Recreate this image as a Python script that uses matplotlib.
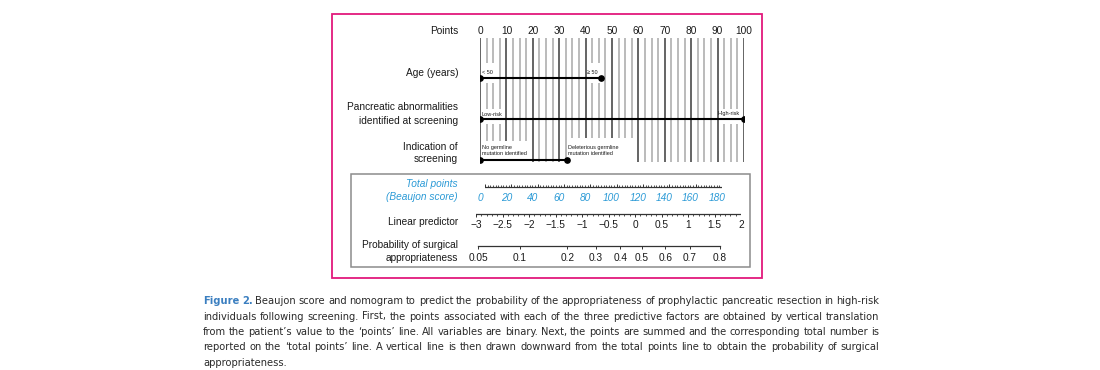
import numpy as np
import matplotlib
matplotlib.use('Agg')
import matplotlib.pyplot as plt
from matplotlib.patches import Rectangle
from matplotlib import transforms
from matplotlib import font_manager as fm

# ---- data ----
points_ticks = [0, 10, 20, 30, 40, 50, 60, 70, 80, 90, 100]
age_labels = ['< 50', '\u2265 50']
age_points = [0, 46]
pancreas_labels = ['Low-risk', 'High-risk']
pancreas_points = [0, 100]
indication_labels = ['No germline\nmutation identified',
                     'Deleterious germline\nmutation identified']
indication_points = [0, 33]
total_ticks = [0, 20, 40, 60, 80, 100, 120, 140, 160, 180]
lp_ticks = [-3, -2.5, -2, -1.5, -1, -0.5, 0, 0.5, 1, 1.5, 2]
prob_labels = ['0.05', '0.1', '0.2', '0.3', '0.4', '0.5', '0.6', '0.7', '0.8']
prob_lp = [-2.96, -2.17, -1.28, -0.74, -0.28, 0.13, 0.57, 1.04, 1.60]

caption = [
    "Beaujon score and nomogram to predict the probability of the appropriateness of prophylactic pancreatic resection in high-risk",
    "individuals following screening. First, the points associated with each of the three predictive factors are obtained by vertical translation",
    "from the patient\u2019s value to the \u2018points\u2019 line. All variables are binary. Next, the points are summed and the corresponding total number is",
    "reported on the \u2018total points\u2019 line. A vertical line is then drawn downward from the total points line to obtain the probability of surgical",
    "appropriateness.",
]

W, H = 1100, 370
plt.rcParams['font.family'] = ['Liberation Sans', 'DejaVu Sans']
fig = plt.figure(figsize=(11, 3.7), dpi=100)


def px_axes(x0, x1):
    a = fig.add_axes([x0 / W, 0, (x1 - x0) / W, 1])
    a.set_ylim(H, 0)
    a.axis('off')
    return a


ax = px_axes(0, W)
ax.set_xlim(0, W)

TXT = '#1a1a1a'
BLUE = '#2b9ad6'
FS = 7.3

# frames
ax.add_patch(Rectangle((332, 14), 430, 264, fc='none', ec='#e2197c', lw=1.3))
ax.add_patch(Rectangle((351, 174), 399, 93, fc='none', ec='#8c8c8c', lw=1.1))

# row labels
rows = [('Points', 30.5), ('Age (years)', 73.3), ('Pancreatic abnormalities', 107.3),
        ('identified at screening', 121), ('Indication of', 146.7), ('screening', 159.3),
        ('Linear predictor', 222), ('Probability of surgical', 245), ('appropriateness', 258)]
for s, y in rows:
    ax.text(458, y, s, ha='right', va='center', fontsize=FS, color=TXT)
for s, y in [('Total points', 184), ('(Beaujon score)', 197)]:
    ax.text(458, y, s, ha='right', va='center', fontsize=FS, color=BLUE, style='italic')

# ---- points section ----
axp = px_axes(480, 744)
axp.set_xlim(0, 100)
for t in points_ticks:
    axp.text(t, 30.5, str(t), ha='center', va='center', fontsize=FS, color=TXT)
minor = [v for v in np.arange(0, 100.1, 2.5) if v % 10]
axp.vlines(minor, 38, 162, color='#b5b5b5', lw=1.3, zorder=1)
axp.vlines(points_ticks, 38, 162, color='#3a3a3a', lw=1.1, zorder=1)

# white areas behind the small value labels
masks = [(1, 6.5, 63, 83), (41, 46, 63, 83), (1, 9, 109, 124), (91, 99, 109, 124),
         (1, 19, 141, 164), (33.5, 59, 138, 164)]
for x0, x1, y0, y1 in masks:
    axp.add_patch(Rectangle((x0, y0), x1 - x0, y1 - y0, fc='white', ec='none', zorder=2))

rowspec = [(age_points, age_labels, 78.3, 72.3),
           (pancreas_points, pancreas_labels, 119, 114),
           (indication_points, indication_labels, 160, 150.5)]
for vals, labs, y, ly in rowspec:
    axp.plot(vals, [y, y], color='black', lw=1.5, marker='o', ms=3.8, zorder=3)
    axp.text(vals[0] + 0.6, ly, labs[0], ha='left', va='center', fontsize=4,
             color=TXT, zorder=4, linespacing=1.1)
    if labs is indication_labels:
        axp.text(vals[1] + 0.5, ly, labs[1], ha='left', va='center', fontsize=4,
                 color=TXT, zorder=4, linespacing=1.1)
    else:
        axp.text(vals[1] - 1.5, ly, labs[1], ha='right', va='center', fontsize=4,
                 color=TXT, zorder=4)

# ---- total points ----
axt = px_axes(485, 722)
axt.set_xlim(0, 180)
axt.plot([0, 180], [187, 187], color='#333333', lw=0.9)
axt.vlines(np.arange(0, 181, 2), 185.3, 187, color='#333333', lw=0.6)
axt.vlines(total_ticks, 184.3, 187, color='#333333', lw=0.7)
lab_tr = transforms.offset_copy(axt.transData, fig=fig, x=-5, y=0, units='dots')
for t in total_ticks:
    axt.text(t, 198, str(t), transform=lab_tr, ha='center', va='center',
             fontsize=FS, color=BLUE, style='italic')

# ---- linear predictor and probability ----
axl = px_axes(476, 741)
axl.set_xlim(-3, 2)
axl.plot([-3, 2], [214, 214], color='#333333', lw=0.9)
axl.vlines(np.arange(-3, 2.001, 0.1), 214, 215.5, color='#333333', lw=0.6)
axl.vlines(lp_ticks, 214, 217, color='#333333', lw=0.7)
for t in lp_ticks:
    s = ('%g' % t).replace('-', '\u2212')
    axl.text(t, 224.5, s, ha='center', va='center', fontsize=FS, color=TXT)

axl.plot([prob_lp[0], prob_lp[-1]], [246, 246], color='#333333', lw=0.9)
axl.vlines(prob_lp, 246, 248.5, color='#333333', lw=0.7)
for v, s in zip(prob_lp, prob_labels):
    axl.text(v, 258, s, ha='center', va='center', fontsize=FS, color=TXT)

# ---- caption, justified ----
# prefer a condensed sans if one is installed
cap_prop = None
for f in fm.fontManager.ttflist:
    nm = f.name.lower()
    if ('narrow' in nm or 'condensed' in nm) and f.style == 'normal':
        cap_prop = dict(family=f.name)
        break
    if f.stretch in ('condensed', 'semi-condensed') and f.style == 'normal':
        cap_prop = dict(family=f.name, stretch=f.stretch)
        break
if cap_prop is None:
    cap_prop = dict(family='Lato')

cap_x0, cap_x1 = 203, 879
cap_y = [301, 316.5, 332, 347.5, 363]
fig.canvas.draw()
rend = fig.canvas.get_renderer()


def text_w(s, fs, **kw):
    t = ax.text(0, 0, s, fontsize=fs, **cap_prop, **kw)
    w = t.get_window_extent(rend).width
    t.remove()
    return w


cap_fs = 10 * (cap_x1 - cap_x0) * 1.0 / text_w(caption[1], 10)

for i, line in enumerate(caption):
    words = line.split(' ')
    styles = [dict(color='#2a2a2a')] * len(words)
    if i == 0:
        words = ['Figure', '2.'] + words
        styles = [dict(color='#3b7fc0', weight='bold')] * 2 + styles
    widths = [text_w(w, cap_fs, **st) for w, st in zip(words, styles)]
    if i < len(caption) - 1:
        gap = (cap_x1 - cap_x0 - sum(widths)) / (len(words) - 1)
    else:
        gap = text_w('a b', cap_fs) - text_w('ab', cap_fs)
    x = cap_x0
    for w, wd, st in zip(words, widths, styles):
        ax.text(x, cap_y[i], w, ha='left', va='center', fontsize=cap_fs,
                **cap_prop, **st)
        x += wd + gap

fig.savefig('out.png', dpi=100, facecolor='white')
